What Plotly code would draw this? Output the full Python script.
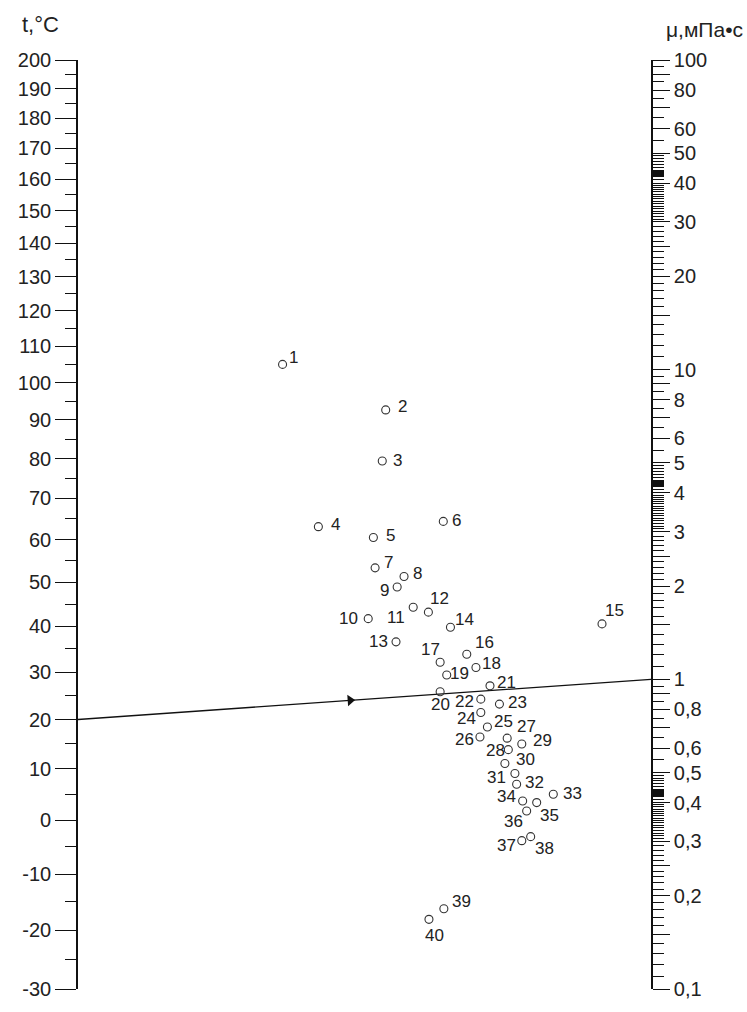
import math
import plotly.graph_objects as go

# ---------------- data ----------------
# point numbers and their nomogram grid coordinates (X across, Y up)
POINT_NUMS = list(range(1, 41))
X_GRID = [7.14, 10.74, 10.62, 8.39, 10.31, 12.75, 10.37, 11.38, 11.14, 10.13,
          11.70, 12.23, 11.10, 13.00, 18.29, 13.57, 12.64, 13.89, 12.87, 12.64,
          14.38, 14.06, 14.71, 14.06, 14.29, 14.03, 14.98, 15.02, 15.49, 14.90,
          15.25, 15.31, 16.59, 15.52, 16.01, 15.66, 15.49, 15.80, 12.77, 12.25]
Y_GRID = [20.17, 18.70, 17.05, 14.93, 14.58, 15.10, 13.60, 13.32, 12.98, 11.96,
          12.33, 12.17, 11.21, 11.68, 11.79, 10.81, 10.55, 10.38, 10.14, 9.60,
          9.79, 9.36, 9.20, 8.93, 8.46, 8.14, 8.10, 7.73, 7.91, 7.28,
          6.96, 6.61, 6.29, 6.07, 6.02, 5.75, 4.79, 4.92, 2.59, 2.25]

# temperature scale (left): labelled every 10 °C, scale is log(t + 235)
T_OFFSET = 235
T_MIN, T_MAX = -30, 200
T_TICKS = list(range(-30, 201, 10))
T_MINOR = list(range(-25, 200, 10))

# viscosity scale (right), mPa·s, logarithmic
MU_MIN, MU_MAX = 0.1, 100
MU_TICKS = [0.1, 0.2, 0.3, 0.4, 0.5, 0.6, 0.8, 1, 2, 3, 4, 5, 6, 8,
            10, 20, 30, 40, 50, 60, 80, 100]
MU_LABELS = ["0,1", "0,2", "0,3", "0,4", "0,5", "0,6", "0,8", "1", "2", "3",
             "4", "5", "6", "8", "10", "20", "30", "40", "50", "60", "80", "100"]

# worked example: t = 20 °C  ->  mu = 1 mPa·s (through point 20)
T_EXAMPLE = 20
MU_EXAMPLE = 1
ARROW_X = 9.5

# ---------------- layout constants ----------------
W, H = 747, 1012
ML, MR, MT, MB = 78, 96, 60, 18
PLOT_W = W - ML - MR
PLOT_H = H - MT - MB
X_RANGE = [0, 20]
Y_RANGE = [0, 30]

FONT = "Liberation Sans, Arial, sans-serif"
INK = "#222222"

# label offsets (px, dx right, dy down) for the point numbers
LABEL_OFFSETS = {
    1: (11, -7), 2: (17, -3), 3: (15, -1), 4: (17, -2), 5: (17, -2),
    6: (13, -1), 7: (13, -5), 8: (13, -3), 9: (-13, 3), 10: (-20, 0),
    11: (-17, 10), 12: (11, -14), 13: (-18, 0), 14: (14, -8), 15: (12, -13),
    16: (18, -12), 17: (-10, -13), 18: (16, -4), 19: (13, -2), 20: (0, 13),
    21: (17, -3), 22: (-16, 2), 23: (18, -2), 24: (-14, 6), 25: (16, -6),
    26: (-15, 3), 27: (19, -12), 28: (-13, 1), 29: (21, -4), 30: (21, -4),
    31: (-18, 4), 32: (18, -2), 33: (19, -1), 34: (-16, -5), 35: (13, 13),
    36: (-13, 11), 37: (-15, 5), 38: (14, 12), 39: (18, -7), 40: (6, 16),
}

# ---------------- scale helpers ----------------
t_lo, t_hi = math.log10(T_MIN + T_OFFSET), math.log10(T_MAX + T_OFFSET)
m_lo, m_hi = math.log10(MU_MIN), math.log10(MU_MAX)


def grid_y_from_t(t):
    f = (math.log10(t + T_OFFSET) - t_lo) / (t_hi - t_lo)
    return Y_RANGE[0] + f * (Y_RANGE[1] - Y_RANGE[0])


def grid_y_from_mu(mu):
    f = (math.log10(mu) - m_lo) / (m_hi - m_lo)
    return Y_RANGE[0] + f * (Y_RANGE[1] - Y_RANGE[0])


# right-axis tick sets (per decade pattern)
long_unlabelled = []
minor_mu = []
for dec in (0.1, 1, 10):
    for m in (1.5, 2.5, 7, 9):
        long_unlabelled.append(round(m * dec, 6))
    ms = [1 + 0.1 * i for i in range(1, 20)]            # 1.1 .. 2.9
    ms += [3 + 0.0625 * i for i in range(1, 16)]        # 3 .. 4
    ms += [4 + 0.1 * i for i in range(1, 10)]           # 4 .. 5
    ms += [4.2 + 0.025 * i for i in range(1, 8)]        # dense band near 4.3
    ms += [5.5, 6.5, 7.5, 8.5, 9.5]
    for m in ms:
        v = round(m * dec, 6)
        if MU_MIN < v < MU_MAX and v not in MU_TICKS and v not in long_unlabelled:
            minor_mu.append(v)

mu_tickvals = MU_TICKS + long_unlabelled
mu_ticktext = MU_LABELS + [""] * len(long_unlabelled)

# ---------------- figure ----------------
fig = go.Figure()

# example line from the t-scale to the mu-scale
yl = grid_y_from_t(T_EXAMPLE)
yr = grid_y_from_mu(MU_EXAMPLE)
fig.add_trace(go.Scatter(x=X_RANGE, y=[yl, yr], mode="lines",
                         line=dict(color="#111111", width=1.3),
                         hoverinfo="skip", showlegend=False))

# arrow head on the line
ya = yl + (yr - yl) * (ARROW_X - X_RANGE[0]) / (X_RANGE[1] - X_RANGE[0])
slope_px = ((yr - yl) / (Y_RANGE[1] - Y_RANGE[0]) * PLOT_H) / PLOT_W
fig.add_trace(go.Scatter(x=[ARROW_X], y=[ya], mode="markers",
                         marker=dict(symbol="triangle-right", size=10, color="#111111",
                                     angle=-math.degrees(math.atan(slope_px))),
                         hoverinfo="skip", showlegend=False))

# points
fig.add_trace(go.Scatter(x=X_GRID, y=Y_GRID, mode="markers",
                         marker=dict(symbol="circle-open", size=8,
                                     line=dict(color="#333333", width=1.1),
                                     color="#333333"),
                         text=[str(n) for n in POINT_NUMS], hoverinfo="text",
                         showlegend=False, cliponaxis=False))

for n, x, y in zip(POINT_NUMS, X_GRID, Y_GRID):
    dx, dy = LABEL_OFFSETS[n]
    fig.add_annotation(x=x, y=y, xref="x", yref="y", text=str(n), showarrow=False,
                       xshift=dx, yshift=-dy, xanchor="center", yanchor="middle",
                       font=dict(family=FONT, size=17, color=INK))

# invisible traces to bind the two scale axes
fig.add_trace(go.Scatter(x=[X_RANGE[0], X_RANGE[0]], y=[T_MIN + T_OFFSET, T_MAX + T_OFFSET],
                         yaxis="y2", mode="lines", line=dict(width=0),
                         hoverinfo="skip", showlegend=False))
fig.add_trace(go.Scatter(x=[X_RANGE[1], X_RANGE[1]], y=[MU_MIN, MU_MAX],
                         yaxis="y3", mode="lines", line=dict(width=0),
                         hoverinfo="skip", showlegend=False))

tickfont = dict(family=FONT, size=20, color=INK)

fig.update_layout(
    width=W, height=H,
    margin=dict(l=ML, r=MR, t=MT, b=MB, pad=0),
    paper_bgcolor="white", plot_bgcolor="white",
    xaxis=dict(range=X_RANGE, visible=False, fixedrange=True),
    yaxis=dict(range=Y_RANGE, visible=False, fixedrange=True),
    yaxis2=dict(
        type="log", overlaying="y", side="left", anchor="x",
        range=[t_lo, t_hi],
        tickmode="array",
        tickvals=[t + T_OFFSET for t in T_TICKS],
        ticktext=[str(t) for t in T_TICKS],
        ticks="outside", ticklen=21, tickwidth=1.3, tickcolor="#111111",
        showline=True, linecolor="#111111", linewidth=1.6,
        showgrid=False, zeroline=False, tickfont=tickfont,
        minor=dict(tickmode="array", tickvals=[t + T_OFFSET for t in T_MINOR],
                   ticks="outside", ticklen=11, tickwidth=1.3, tickcolor="#111111",
                   showgrid=False),
        fixedrange=True,
    ),
    yaxis3=dict(
        type="log", overlaying="y", side="right", anchor="x",
        range=[m_lo, m_hi],
        tickmode="array", tickvals=mu_tickvals, ticktext=mu_ticktext,
        ticks="outside", ticklen=17, tickwidth=1.3, tickcolor="#111111",
        showline=True, linecolor="#111111", linewidth=1.6,
        showgrid=False, zeroline=False, tickfont=tickfont,
        minor=dict(tickmode="array", tickvals=minor_mu,
                   ticks="outside", ticklen=11, tickwidth=1.1, tickcolor="#111111",
                   showgrid=False),
        fixedrange=True,
    ),
    showlegend=False,
)

# axis titles
fig.add_annotation(text="t,°C", xref="paper", yref="paper",
                   x=(40 - ML) / PLOT_W, y=1 + (MT - 24) / PLOT_H,
                   xanchor="center", yanchor="middle", showarrow=False,
                   font=dict(family=FONT, size=22, color=INK))
fig.add_annotation(text="μ,мПа•с", xref="paper", yref="paper",
                   x=(745 - ML) / PLOT_W, y=1 + (MT - 29) / PLOT_H,
                   xanchor="right", yanchor="middle", showarrow=False,
                   font=dict(family=FONT, size=21, color=INK))

fig.write_html(
    "out.html",
    config={"displayModeBar": False},
    post_script="document.body.style.margin='0';document.body.style.overflow='hidden';",
)
